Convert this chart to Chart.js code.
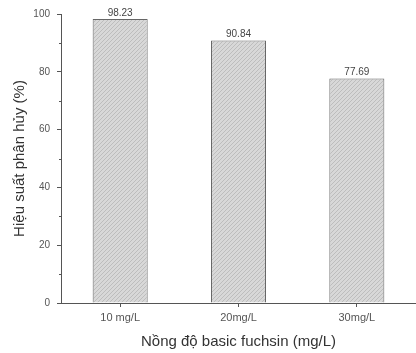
<!DOCTYPE html>
<html>
<head>
<meta charset="utf-8">
<script src="https://cdn.jsdelivr.net/npm/chart.js@4/dist/chart.umd.min.js"></script>
<style>
  html, body { margin: 0; padding: 0; background: #fff; }
  #wrap { width: 416px; height: 353px; }
</style>
</head>
<body>
<div id="wrap"><canvas id="chart" width="416" height="353"></canvas></div>
<script>
const categories = ['10 mg/L', '20mg/L', '30mg/L'];
const efficiency = [98.23, 90.84, 77.69];
const valueLabels = ['98.23', '90.84', '77.69'];
const yTicks = [0, 20, 40, 60, 80, 100];

// hatched grey fill like the original
function makeHatch() {
  const c = document.createElement('canvas');
  c.width = 4; c.height = 4;
  const g = c.getContext('2d');
  g.fillStyle = '#d8d8d8';
  g.fillRect(0, 0, 4, 4);
  g.strokeStyle = '#bdbdbd';
  g.lineWidth = 1;
  g.beginPath();
  g.moveTo(0, 4); g.lineTo(4, 0);
  g.stroke();
  return g.createPattern(c, 'repeat');
}

const axisColor = '#555';
const family = 'Liberation Sans, Arial, sans-serif';

const barLabels = {
  id: 'barLabels',
  afterDatasetsDraw(chart) {
    const ctx = chart.ctx;
    const meta = chart.getDatasetMeta(0);
    ctx.save();
    ctx.font = '10px ' + family;
    ctx.fillStyle = '#444';
    ctx.textAlign = 'center';
    ctx.textBaseline = 'bottom';
    meta.data.forEach((bar, i) => ctx.fillText(valueLabels[i], bar.x, bar.y - 1));
    ctx.restore();
  }
};

// short minor ticks between the labelled ones
const minorTicks = {
  id: 'minorTicks',
  afterDraw(chart) {
    const y = chart.scales.y;
    const ctx = chart.ctx;
    ctx.save();
    ctx.strokeStyle = axisColor;
    ctx.lineWidth = 1;
    for (let i = 0; i < yTicks.length - 1; i++) {
      const py = Math.round(y.getPixelForValue((yTicks[i] + yTicks[i + 1]) / 2)) + 0.5;
      ctx.beginPath();
      ctx.moveTo(y.right - 2, py);
      ctx.lineTo(y.right, py);
      ctx.stroke();
    }
    ctx.restore();
  }
};

new Chart(document.getElementById('chart'), {
  type: 'bar',
  data: {
    labels: categories,
    datasets: [{
      data: efficiency,
      backgroundColor: makeHatch(),
      borderColor: '#666',
      borderWidth: 1,
      categoryPercentage: 1,
      barPercentage: 0.465
    }]
  },
  options: {
    responsive: false,
    animation: false,
    layout: { padding: { top: 14, right: 0, left: 6, bottom: 0 } },
    plugins: { legend: { display: false }, tooltip: { enabled: false } },
    scales: {
      x: {
        grid: { display: true, drawOnChartArea: false, offset: false, color: axisColor, tickLength: 4 },
        border: { color: axisColor, width: 1 },
        ticks: { color: '#555', font: { family, size: 11 }, padding: 4 },
        title: { display: true, text: 'Nồng độ basic fuchsin (mg/L)', color: '#333',
                 font: { family, size: 15 }, padding: { top: 2, bottom: 2 } },
        afterFit(s) { s.height = 50; }
      },
      y: {
        min: 0, max: 100,
        afterBuildTicks(s) { s.ticks = yTicks.map(v => ({ value: v })); },
        grid: { display: true, drawOnChartArea: false, color: axisColor, tickLength: 4 },
        border: { color: axisColor, width: 1 },
        ticks: { color: '#555', font: { family, size: 10 }, padding: 7 },
        title: { display: true, text: 'Hiệu suất phân hủy (%)', color: '#333',
                 font: { family, size: 15 }, padding: { top: 5, bottom: 2 } },
        afterFit(s) { s.width = 55; }
      }
    }
  },
  plugins: [barLabels, minorTicks]
});
</script>
</body>
</html>
